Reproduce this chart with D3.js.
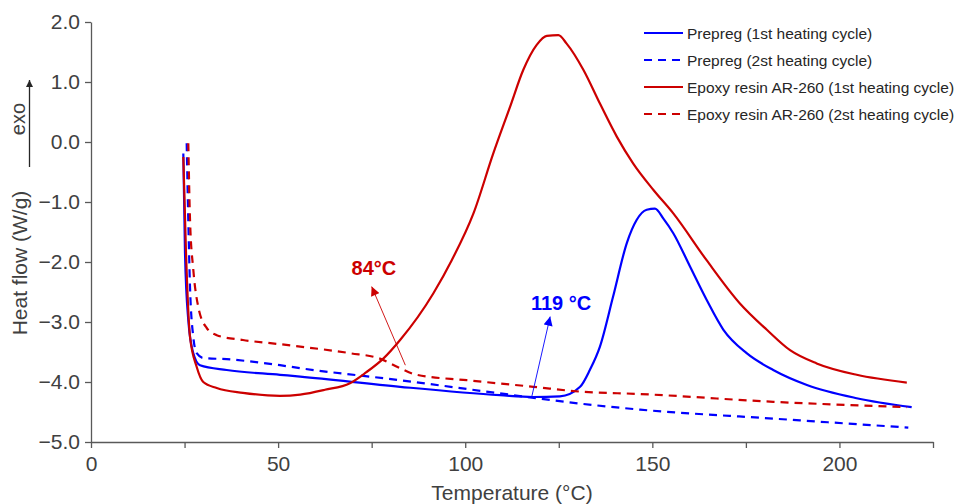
<!DOCTYPE html>
<html>
<head>
<meta charset="utf-8">
<script src="https://cdn.jsdelivr.net/npm/d3@7"></script>
<style>
  body { margin: 0; background: #fff; }
  text { font-family: "Liberation Sans", Arial, sans-serif; }
</style>
</head>
<body>
<svg id="chart"></svg>
<script>
// DSC curves, values
const prepreg1T = [24.67, 25.12, 26.0, 27.34, 29.13, 36.26, 50.5, 55.9, 82.6, 109.3, 118.1, 125.3, 130.7, 133.3, 136, 139.5, 143.2, 145.8, 148.5, 150.7, 153, 155.6, 160.1, 164.5, 169, 175.2, 182.3, 191.3, 204.6, 219.3];
const prepreg1V = [-0.19, -1.85, -2.97, -3.52, -3.72, -3.8, -3.88, -3.91, -4.08, -4.22, -4.25, -4.24, -4.08, -3.8, -3.41, -2.58, -1.68, -1.3, -1.13, -1.11, -1.28, -1.52, -2.08, -2.63, -3.13, -3.52, -3.8, -4.05, -4.27, -4.42];

const prepreg2T = [25.57, 26.0, 26.46, 27.34, 28.25, 30.0, 36.26, 50.5, 55.9, 82.6, 109.3, 130.7, 146.7, 182.3, 218.4];
const prepreg2V = [-0.02, -1.3, -2.42, -3.25, -3.52, -3.6, -3.62, -3.72, -3.77, -3.97, -4.19, -4.36, -4.46, -4.61, -4.76];

const epoxy1T = [24.67, 25.39, 26.46, 28.25, 30.0, 33.6, 40.6, 50.5, 55.9, 62.5, 69.2, 73.5, 78.1, 82.6, 91.5, 96.4, 102.2, 107.5, 112, 115.5, 119.1, 121.8, 124.9, 127.1, 131.6, 136, 140.5, 144.9, 150.3, 155.6, 164.5, 173.4, 180.6, 186.8, 193.9, 204.6, 218];
const epoxy1V = [-0.25, -1.85, -3.25, -3.75, -4.0, -4.1, -4.18, -4.23, -4.21, -4.13, -4.02, -3.84, -3.61, -3.3, -2.52, -1.97, -1.19, -0.19, 0.59, 1.2, 1.62, 1.77, 1.78, 1.64, 1.2, 0.64, 0.09, -0.36, -0.8, -1.19, -1.97, -2.69, -3.13, -3.47, -3.69, -3.88, -4.01];

const epoxy2T = [26.0, 26.46, 27.34, 28.67, 30.92, 33.6, 40.6, 50.5, 55.9, 69.2, 77.2, 82.6, 87, 100.4, 118.2, 130.7, 146.7, 182.3, 218];
const epoxy2V = [-0.02, -1.3, -2.13, -2.75, -3.1, -3.22, -3.3, -3.37, -3.41, -3.52, -3.61, -3.77, -3.88, -3.97, -4.08, -4.16, -4.2, -4.33, -4.42];

const seriesNames = ["Prepreg (1st heating cycle)", "Prepreg (2st heating cycle)", "Epoxy resin AR-260 (1st heating cycle)", "Epoxy resin AR-260 (2st heating cycle)"];

const yTicks = [-5, -4, -3, -2, -1, 0, 1, 2];
const xTicks = [0, 25, 50, 75, 100, 125, 150, 175, 200, 225];

// annotations: [label, text T, text value, arrow tip T, tip value, arrow tail T, tail value]
const annotations = [
    ["84°C", 75.6, -2.22, 75.0, -2.41, 84.0, -3.72],
    ["119 °C", 125.6, -2.8, 122.7, -2.91, 117.8, -4.24]
];

const blue = "#0000ff";
const red = "#cc0000";
const axisColor = "#595959";
const textColor = "#404040";

const width = 959, height = 504;
const svg = d3.select("#chart").attr("width", width).attr("height", height);

const x = d3.scaleLinear().domain([0, 225]).range([91, 933]);
const y = d3.scaleLinear().domain([-5, 2]).range([442, 22]);

const series = [
    { name: seriesNames[0], T: prepreg1T, V: prepreg1V, color: blue, dash: null },
    { name: seriesNames[1], T: prepreg2T, V: prepreg2V, color: blue, dash: "8,6" },
    { name: seriesNames[2], T: epoxy1T, V: epoxy1V, color: red, dash: null },
    { name: seriesNames[3], T: epoxy2T, V: epoxy2V, color: red, dash: "8,6" }
];

// axes
const yAxis = d3.axisLeft(y).tickValues(yTicks).tickFormat(d3.format(".1f")).tickSize(6).tickSizeOuter(0).tickPadding(5);
const xAxis = d3.axisBottom(x).tickValues(xTicks).tickFormat(d => d % 50 === 0 ? d : "").tickSize(6).tickSizeOuter(0).tickPadding(8);

const gy = svg.append("g").attr("transform", `translate(${x(0)},0)`).call(yAxis);
const gx = svg.append("g").attr("transform", `translate(0,${y(-5)})`).call(xAxis);
[gx, gy].forEach(g => {
    g.select(".domain").attr("stroke", axisColor).attr("stroke-width", 1.3);
    g.selectAll(".tick line").attr("stroke", axisColor).attr("stroke-width", 1.3);
    g.selectAll(".tick text").attr("fill", textColor).style("font-size", "21px").style("font-family", "'Liberation Sans', Arial, sans-serif");
});

// axis titles
svg.append("text")
    .attr("x", x(112.5)).attr("y", 500)
    .attr("text-anchor", "middle")
    .attr("fill", textColor)
    .style("font-size", "21px")
    .text("Temperature (°C)");

svg.append("text")
    .attr("transform", "translate(27,263) rotate(-90)")
    .attr("text-anchor", "middle")
    .attr("fill", textColor)
    .style("font-size", "21px")
    .text("Heat flow (W/g)");

// exo arrow
svg.append("defs").append("marker")
    .attr("id", "exoHead")
    .attr("viewBox", "0 0 10 10").attr("refX", 10).attr("refY", 5)
    .attr("markerWidth", 7).attr("markerHeight", 7)
    .attr("markerUnits", "userSpaceOnUse")
    .attr("orient", "auto")
    .append("path").attr("d", "M0,0 L10,5 L0,10 Z").attr("fill", "#262626");
svg.append("line")
    .attr("x1", 29.5).attr("x2", 29.5).attr("y1", 167).attr("y2", 80)
    .attr("stroke", "#262626").attr("stroke-width", 1.3)
    .attr("marker-end", "url(#exoHead)");
svg.append("text")
    .attr("transform", "translate(25,119) rotate(-90)")
    .attr("text-anchor", "middle")
    .attr("fill", textColor)
    .style("font-size", "20px")
    .text("exo");

// curves
const line = d3.line()
    .x(d => x(d[0]))
    .y(d => y(d[1]))
    .curve(d3.curveMonotoneX);

svg.selectAll(".curve").data(series).enter().append("path")
    .attr("class", "curve")
    .attr("d", s => line(s.T.map((t, i) => [t, s.V[i]])))
    .attr("fill", "none")
    .attr("stroke", s => s.color)
    .attr("stroke-width", 2.2)
    .attr("stroke-dasharray", s => s.dash);

// annotation arrows
const defs = svg.select("defs");
[["redHead", red], ["blueHead", blue]].forEach(([id, c]) => {
    defs.append("marker")
        .attr("id", id)
        .attr("viewBox", "0 0 10 10").attr("refX", 10).attr("refY", 5)
        .attr("markerWidth", 10).attr("markerHeight", 9)
        .attr("markerUnits", "userSpaceOnUse")
        .attr("orient", "auto")
        .append("path").attr("d", "M0,0 L10,5 L0,10 Z").attr("fill", c);
});

annotations.forEach((a, i) => {
    const c = i === 0 ? red : blue;
    svg.append("line")
        .attr("x1", x(a[5])).attr("y1", y(a[6]))
        .attr("x2", x(a[3])).attr("y2", y(a[4]))
        .attr("stroke", c).attr("stroke-width", 0.9)
        .attr("marker-end", `url(#${i === 0 ? "redHead" : "blueHead"})`);
    svg.append("text")
        .attr("x", x(a[1])).attr("y", y(a[2]))
        .attr("text-anchor", "middle")
        .attr("fill", c)
        .style("font-size", "20px")
        .style("font-weight", "bold")
        .text(a[0]);
});

// legend
const legend = svg.append("g").attr("transform", "translate(644,33)");
series.forEach((s, i) => {
    const row = legend.append("g").attr("transform", `translate(0,${i * 27})`);
    row.append("line")
        .attr("x1", 0).attr("x2", 39).attr("y1", 0).attr("y2", 0)
        .attr("stroke", s.color).attr("stroke-width", 2.2)
        .attr("stroke-dasharray", s.dash);
    row.append("text")
        .attr("x", 43).attr("y", 5.5)
        .attr("fill", "#262626")
        .style("font-size", "15.5px")
        .text(s.name);
});
</script>
</body>
</html>
